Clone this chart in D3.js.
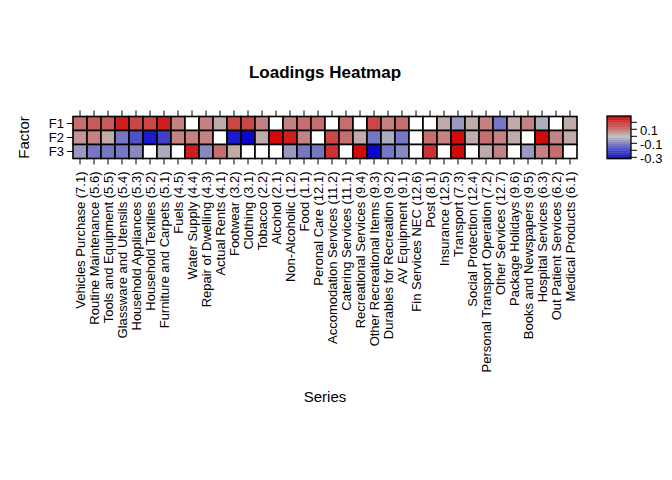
<!DOCTYPE html>
<html>
<head>
<meta charset="UTF-8">
<title>Loadings Heatmap</title>
<script src="https://d3js.org/d3.v7.min.js"></script>
<style>
  body { margin: 0; background: #fff; }
  svg text { font-family: "Liberation Sans", Arial, sans-serif; fill: #000; }
  .title { font-size: 17px; font-weight: bold; }
  .lab { font-size: 13px; }
  .axlab { font-size: 15px; }
</style>
</head>
<body>
<div id="chart"></div>
<script>
// column order as drawn, left to right
var series = [
  "Vehicles Purchase (7.1)", "Routine Maintenance (5.6)", "Tools and Equipment (5.5)",
  "Glassware and Utensils (5.4)", "Household Appliances (5.3)", "Household Textiles (5.2)",
  "Furniture and Carpets (5.1)", "Fuels (4.5)", "Water Supply (4.4)", "Repair of Dwelling (4.3)",
  "Actual Rents (4.1)", "Footwear (3.2)", "Clothing (3.1)", "Tobacco (2.2)", "Alcohol (2.1)",
  "Non-Alcoholic (1.2)", "Food (1.1)", "Peronal Care (12.1)", "Accomodation Services (11.2)",
  "Catering Services (11.1)", "Recreational Services (9.4)", "Other Recreational Items (9.3)",
  "Durables for Recreation (9.2)", "AV Equipment (9.1)", "Fin Services NEC (12.6)", "Post (8.1)",
  "Insurance (12.5)", "Transport (7.3)", "Social Protection (12.4)",
  "Personal Transport Operation (7.2)", "Other Services (12.7)", "Package Holidays (9.6)",
  "Books and Newspapers (9.5)", "Hospital Services (6.3)", "Out Patient Services (6.2)",
  "Medical Products (6.1)"
];
var factors = ["F1", "F2", "F3"];

// loadings (null = blank below cutoff)
var f1 = [0.12, 0.14, 0.14, 0.23, 0.19, 0.19, 0.23, 0.09, null, 0.09, 0.04, 0.19, 0.19, 0.09, null,
          0.09, 0.13, 0.13, null, 0.13, null, 0.19, 0.09, 0.13, null, null, 0.04, -0.07, 0.04,
          0.09, -0.12, 0.04, 0.09, -0.03, null, 0.04];
var f2 = [0.05, 0.09, 0.04, -0.11, -0.17, -0.27, -0.22, 0.09, 0.09, 0.09, null, -0.27, -0.32, 0.04, 0.27,
          0.23, 0.09, null, 0.19, 0.13, 0.04, -0.12, -0.03, -0.12, null, 0.13, 0.09, 0.29, 0.04,
          0.13, 0.09, 0.04, null, 0.27, 0.09, 0.04];
var f3 = [-0.07, -0.12, -0.12, -0.12, -0.08, null, -0.03, null, 0.23, -0.08, 0.13, 0.04, null, null, null,
          -0.07, -0.12, -0.12, 0.22, null, 0.28, -0.30, -0.12, -0.08, null, 0.2, null, 0.27, null,
          0.04, 0.09, null, -0.07, 0.09, 0.13, null];

var keyTicks = [0.2, 0.1, 0, -0.1, -0.2, -0.3];
var keyLabels = ["0.1", "-0.1", "-0.3"];
var keyRange = [-0.32, 0.29];

var rows = [f1, f2, f3];
var cells = [];
rows.forEach(function(r, i) {
  r.forEach(function(v, j) { cells.push({ f: factors[i], s: series[j], v: v }); });
});

var W = 672, H = 480;
var svg = d3.select("#chart").append("svg").attr("width", W).attr("height", H);

var x = d3.scaleBand().domain(series).range([73, 577]);
var y = d3.scaleBand().domain(factors).range([116.5, 158.5]);

// discrete blue-grey-red ramp, like the key
var nBands = 20;
var ramp = d3.scaleLinear().domain([keyRange[0], 0, keyRange[1]])
  .range(["#0000cd", "#bebebe", "#d20000"]);
var step = (keyRange[1] - keyRange[0]) / nBands;
var bands = d3.range(nBands).map(function(k) { return keyRange[0] + step * k; });
var color = d3.scaleQuantize().domain(keyRange)
  .range(bands.map(function(b) { return ramp(b + step / 2); }));

svg.selectAll("rect.cell").data(cells).enter().append("rect")
  .attr("class", "cell")
  .attr("x", function(d) { return x(d.s); })
  .attr("y", function(d) { return y(d.f); })
  .attr("width", x.bandwidth())
  .attr("height", y.bandwidth())
  .attr("fill", function(d) { return d.v === null ? "#fff" : color(d.v); })
  .attr("stroke", "#000")
  .attr("stroke-width", 1.6);

// axes
var axBottom = svg.append("g").attr("transform", "translate(0,158.5)")
  .call(d3.axisBottom(x).tickSize(6).tickSizeOuter(0).tickPadding(4));
axBottom.selectAll("text")
  .attr("transform", "rotate(-90)")
  .attr("x", -13).attr("y", 0).attr("dy", "0.35em")
  .style("text-anchor", "end");
var axTop = svg.append("g").attr("transform", "translate(0,116.5)")
  .call(d3.axisTop(x).tickSize(6).tickSizeOuter(0).tickFormat(""));
var axLeft = svg.append("g").attr("transform", "translate(73,0)")
  .call(d3.axisLeft(y).tickSize(6).tickSizeOuter(0).tickPadding(3));
[axBottom, axTop, axLeft].forEach(function(g) {
  g.select(".domain").remove();
  g.selectAll("line").attr("stroke", "#000");
  g.selectAll("text").attr("class", "lab").style("font-size", null);
});

svg.append("text").attr("class", "title").attr("x", 325).attr("y", 78)
  .attr("text-anchor", "middle").text("Loadings Heatmap");
svg.append("text").attr("class", "axlab").attr("x", 325).attr("y", 402)
  .attr("text-anchor", "middle").text("Series");
svg.append("text").attr("class", "axlab")
  .attr("transform", "translate(29,137.5) rotate(-90)")
  .attr("text-anchor", "middle").text("Factor");

// colour key
var ky = d3.scaleLinear().domain(keyRange).range([158.7, 116]);
var key = svg.append("g");
key.selectAll("rect").data(bands).enter().append("rect")
  .attr("x", 607).attr("width", 24)
  .attr("y", function(b) { return ky(b + step); })
  .attr("height", function(b) { return ky(b) - ky(b + step) + 0.3; })
  .attr("fill", function(b) { return ramp(b + step / 2); });
key.append("rect").attr("x", 607).attr("y", 116).attr("width", 24).attr("height", 42.7)
  .attr("fill", "none").attr("stroke", "#000").attr("stroke-width", 1.3);
key.selectAll("line").data(keyTicks).enter().append("line")
  .attr("x1", 631).attr("x2", 637)
  .attr("y1", ky).attr("y2", ky)
  .attr("stroke", "#000");
key.selectAll("text.klab").data(keyLabels).enter().append("text")
  .attr("class", "lab klab").attr("x", 640).attr("y", function(d) { return ky(+d) + 1; })
  .attr("dy", "0.35em")
  .text(function(d) { return d; });
</script>
</body>
</html>
